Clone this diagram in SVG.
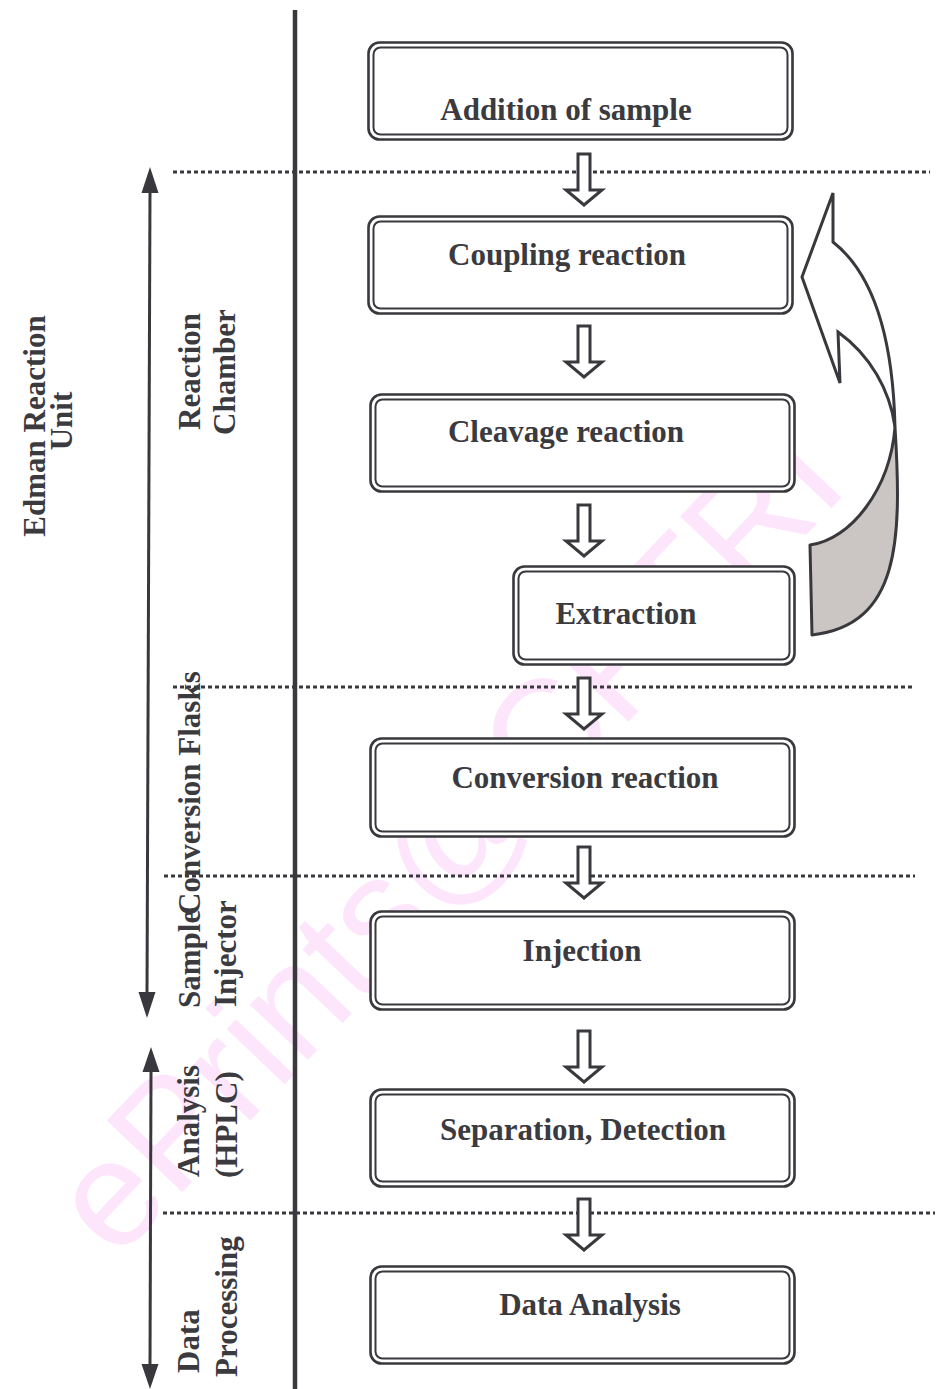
<svg xmlns="http://www.w3.org/2000/svg" width="937" height="1389" viewBox="0 0 937 1389">
<style>
.bx{fill:#fff;stroke:#38383d;stroke-width:2.6}
.bi{fill:none;stroke:#38383d;stroke-width:2}
.t{font-family:"Liberation Serif","Times New Roman",serif;font-weight:bold;font-size:31px;fill:#3a3a3f}
.tm{text-anchor:middle}
.dot{stroke:#38383d;stroke-width:3;stroke-dasharray:4 3;fill:none}
.ln{stroke:#38383d;fill:none}
.ha{fill:#fff;stroke:#38383d;stroke-width:3;stroke-linejoin:miter}
.hd{fill:#38383d}
.wm{font-family:"Liberation Sans",Arial,sans-serif;font-size:151px;fill:#fde5fb}
</style>
<defs>
<path id="harrow" class="ha" d="M -6 0 H 6 V 36 H 18 L 0 51 L -18 36 H -6 Z"/>
</defs>
<rect width="937" height="1389" fill="#fff"/>
<text class="wm" transform="translate(116,1262) rotate(-46.5)">ePrints@CFTRI</text>

<g id="dividers">
<line class="ln" x1="295" y1="10" x2="295" y2="1389" stroke-width="4.5"/>
<line class="dot" x1="173" y1="172" x2="930" y2="172"/>
<line class="dot" x1="173" y1="687" x2="915" y2="687"/>
<line class="dot" x1="164" y1="876" x2="915" y2="876"/>
<line class="dot" x1="163" y1="1213" x2="935" y2="1213"/>
</g>

<g id="span-arrows">
<line class="ln" x1="150" y1="190" x2="147" y2="995" stroke-width="3"/>
<polygon class="hd" points="150,167 141.5,193 158.5,193"/>
<polygon class="hd" points="147,1018 138.5,992 155.5,992"/>
<line class="ln" x1="151" y1="1070" x2="150" y2="1366" stroke-width="3"/>
<polygon class="hd" points="151,1047 142.5,1072 159.5,1072"/>
<polygon class="hd" points="150,1389 141.5,1364 158.5,1364"/>
</g>

<g id="labels">
<text class="t tm" transform="translate(45,426) rotate(-90)">Edman Reaction</text>
<text class="t tm" transform="translate(72,421) rotate(-90)">Unit</text>
<text class="t" transform="translate(200,430) rotate(-90)">Reaction</text>
<text class="t" transform="translate(235,435) rotate(-90)">Chamber</text>
<text class="t" transform="translate(200,1008) rotate(-90)">Sample</text>
<text class="t" transform="translate(200,915) rotate(-90)">Conversion Flasks</text>
<text class="t" transform="translate(236,1007) rotate(-90)">Injector</text>
<text class="t" transform="translate(199,1177) rotate(-90)">Analysis</text>
<text class="t" transform="translate(237,1178) rotate(-90)">(HPLC)</text>
<text class="t" transform="translate(199,1373) rotate(-90)">Data</text>
<text class="t" transform="translate(237,1377) rotate(-90)">Processing</text>
</g>

<g id="connectors">
<use href="#harrow" x="584" y="154"/>
<use href="#harrow" x="584" y="326"/>
<use href="#harrow" x="584" y="505"/>
<use href="#harrow" x="584" y="678"/>
<use href="#harrow" x="584" y="847"/>
<use href="#harrow" x="584" y="1031"/>
<use href="#harrow" x="584" y="1199"/>
<g id="loop-arrow">
<path d="M 895 427 C 890 490 850 540 810 545 L 812 635 C 900 625 902 540 895 427 Z" fill="#cbc5c3" stroke="#38383d" stroke-width="3" stroke-linejoin="round"/>
<path d="M 833 193 L 833 242 C 875 275 893 340 895 427 C 890 390 870 355 838 332 L 840 383 L 802 277 Z" fill="#fff" stroke="#38383d" stroke-width="3" stroke-linejoin="miter"/>
</g>
</g>

<g id="n1"><rect class="bx" x="368.5" y="42.5" width="424" height="97" rx="11"/><rect class="bi" x="373.5" y="47.5" width="414" height="87" rx="7"/><text class="t tm" x="566" y="120">Addition of sample</text></g>
<g id="n2"><rect class="bx" x="368.5" y="216.5" width="424" height="97" rx="11"/><rect class="bi" x="373.5" y="221.5" width="414" height="87" rx="7"/><text class="t tm" x="567" y="265">Coupling reaction</text></g>
<g id="n3"><rect class="bx" x="370.5" y="394.5" width="424" height="97" rx="11"/><rect class="bi" x="375.5" y="399.5" width="414" height="87" rx="7"/><text class="t tm" x="566" y="442">Cleavage reaction</text></g>
<g id="n4"><rect class="bx" x="513.5" y="566.5" width="281" height="98" rx="11"/><rect class="bi" x="518.5" y="571.5" width="271" height="88" rx="7"/><text class="t tm" x="626" y="624">Extraction</text></g>
<g id="n5"><rect class="bx" x="370.5" y="738.5" width="424" height="98" rx="11"/><rect class="bi" x="375.5" y="743.5" width="414" height="88" rx="7"/><text class="t tm" x="585" y="788">Conversion reaction</text></g>
<g id="n6"><rect class="bx" x="370.5" y="911.5" width="424" height="98" rx="11"/><rect class="bi" x="375.5" y="916.5" width="414" height="88" rx="7"/><text class="t tm" x="582" y="961">Injection</text></g>
<g id="n7"><rect class="bx" x="370.5" y="1089.5" width="424" height="97" rx="11"/><rect class="bi" x="375.5" y="1094.5" width="414" height="87" rx="7"/><text class="t tm" x="583" y="1140">Separation, Detection</text></g>
<g id="n8"><rect class="bx" x="370.5" y="1266.5" width="424" height="97" rx="11"/><rect class="bi" x="375.5" y="1271.5" width="414" height="87" rx="7"/><text class="t tm" x="590" y="1315">Data Analysis</text></g>
</svg>
